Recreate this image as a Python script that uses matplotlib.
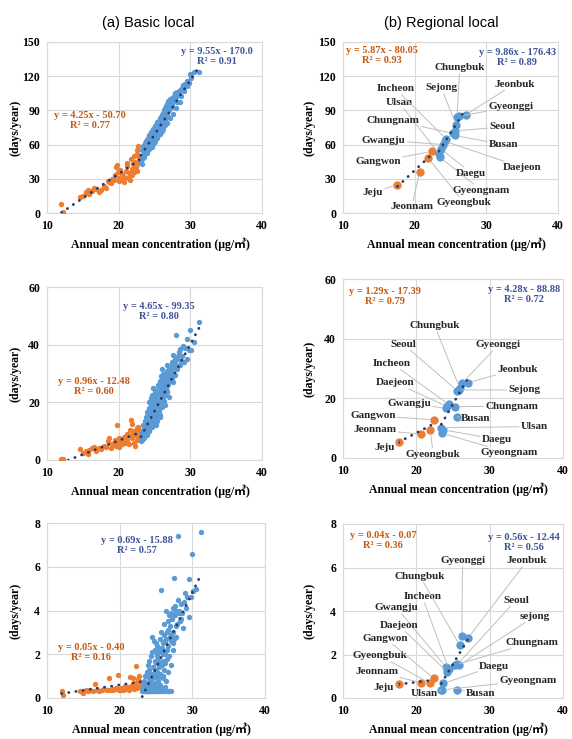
import matplotlib
matplotlib.use('Agg')
import matplotlib.pyplot as plt

# ---- (a) basic local stations ----
# annual mean concentration and exceedance days (three thresholds: rows 1..3)
basic_orange_x = [12.0, 12.2, 14.6, 15.0, 15.4, 15.7, 15.9, 16.3, 16.6, 16.9,
                  17.2, 17.6, 17.9, 18.3, 18.5, 18.7, 18.9, 19.1, 19.3, 19.5,
                  19.6, 19.8, 19.9, 20.0, 20.1, 20.2, 20.4, 20.5, 20.7, 20.8,
                  21.0, 21.1, 21.2, 21.3, 21.4, 21.6, 21.7, 21.8, 21.9, 22.0,
                  22.1, 22.2, 22.3, 22.4, 22.5, 22.6, 22.7, 22.8, 22.9, 22.5]
basic_orange_y1 = [7.5, 1.0, 14, 15, 18, 20, 17, 19, 22, 21,
                   18, 20, 24, 22, 28, 27, 26, 30, 29, 33,
                   40, 42, 36, 31, 28, 38, 34, 29, 32, 27,
                   37, 44, 41, 31, 35, 29, 47, 39, 33, 43,
                   36, 50, 45, 40, 55, 52, 59, 48, 44, 37]
basic_orange_y2 = [0.5, 0.3, 3.8, 2.5, 3.0, 2.0, 3.5, 4.0, 4.5, 3.2,
                   4.2, 3.8, 5.0, 4.5, 6.5, 7.5, 4.0, 5.5, 6.0, 7.0,
                   5.0, 12.0, 6.5, 7.5, 4.5, 6.0, 5.5, 7.0, 6.5, 8.0,
                   6.0, 9.0, 7.0, 8.5, 5.5, 10.5, 14.0, 12.5, 7.5, 9.0,
                   6.0, 10.0, 5.0, 8.5, 11.0, 9.5, 11.5, 10.0, 8.0, 7.0]
basic_orange_y3 = [0.30, 0.15, 0.30, 0.25, 0.35, 0.30, 0.35, 0.30, 0.65, 0.35,
                   0.30, 0.35, 0.40, 0.35, 0.90, 0.35, 0.40, 0.35, 0.40, 0.45,
                   0.40, 1.05, 0.35, 0.40, 0.35, 0.45, 0.40, 0.35, 0.55, 0.40,
                   0.45, 0.50, 0.40, 0.35, 0.95, 0.45, 0.60, 0.90, 0.50, 0.40,
                   0.70, 0.55, 1.45, 0.45, 0.85, 0.60, 1.00, 0.75, 0.50, 0.65]

basic_blue_x = [23.1, 23.2, 23.3, 23.3, 23.4, 23.5, 23.5, 23.6, 23.7, 23.7,
                23.8, 23.8, 23.9, 23.9, 24.0, 24.0, 24.1, 24.1, 24.2, 24.2,
                24.3, 24.3, 24.4, 24.4, 24.5, 24.5, 24.6, 24.6, 24.7, 24.7,
                24.8, 24.8, 24.9, 24.9, 25.0, 25.0, 25.1, 25.1, 25.2, 25.2,
                25.3, 25.3, 25.4, 25.4, 25.5, 25.5, 25.6, 25.6, 25.7, 25.7,
                25.8, 25.8, 25.9, 25.9, 26.0, 26.0, 26.1, 26.1, 26.2, 26.2,
                26.3, 26.3, 26.4, 26.4, 26.5, 26.5, 26.6, 26.6, 26.7, 26.7,
                26.8, 26.8, 26.9, 26.9, 27.0, 27.0, 27.1, 27.1, 27.2, 27.3,
                27.3, 27.4, 27.5, 27.5, 27.6, 27.7, 27.8, 27.9, 28.0, 28.1,
                28.2, 28.4, 28.5, 28.7, 28.9, 29.1, 29.3, 29.5, 29.6, 29.8,
                30.0, 30.1, 30.5, 31.2,
                23.4, 23.6, 23.8, 24.0, 24.1, 24.3, 24.5, 24.6, 24.8, 24.9,
                25.0, 25.1, 25.2, 25.3, 25.4, 25.5, 25.6, 25.7, 25.8, 25.9,
                26.0, 26.1, 26.2, 26.4, 26.5, 26.7, 26.8, 27.0, 27.2, 27.4,
                27.6, 27.8, 28.0, 28.3, 28.6, 29.0]
basic_blue_y1 = [46, 43, 50, 55, 48, 53, 58, 51, 56, 61,
                 54, 59, 62, 57, 60, 64, 58, 62, 66, 61,
                 63, 68, 60, 65, 70, 62, 67, 72, 64, 69,
                 74, 66, 71, 63, 68, 73, 76, 65, 70, 75,
                 67, 72, 78, 69, 74, 80, 71, 77, 82, 73,
                 79, 75, 84, 77, 81, 86, 79, 83, 88, 80,
                 85, 90, 82, 87, 92, 84, 89, 94, 86, 91,
                 96, 88, 93, 98, 90, 95, 100, 92, 97, 94,
                 99, 96, 101, 93, 98, 103, 100, 105, 102, 97,
                 106, 104, 108, 103, 110, 107, 113, 111, 116, 114,
                 122, 118, 124, 124,
                 59, 49, 63, 53, 66, 56, 71, 58, 73, 61,
                 76, 63, 77, 66, 80, 68, 81, 69, 83, 71,
                 72, 86, 74, 88, 77, 92, 79, 94, 83, 98,
                 87, 101, 92, 106, 97, 112]
basic_blue_y2 = [6.5, 8.0, 7.0, 9.5, 10.5, 8.5, 12.0, 9.0, 13.5, 11.0,
                 10.0, 15.0, 12.5, 8.5, 14.0, 16.5, 11.0, 13.0, 18.0, 10.5,
                 15.5, 20.0, 12.0, 17.0, 21.5, 14.0, 19.0, 22.5, 13.0, 16.0,
                 25.0, 18.5, 20.5, 15.0, 22.0, 17.5, 24.0, 14.5, 19.5, 21.0,
                 16.5, 23.0, 18.0, 13.5, 20.0, 25.5, 22.5, 17.0, 27.0, 15.5,
                 24.0, 19.0, 21.5, 26.5, 23.5, 18.5, 31.5, 25.0, 22.0, 27.5,
                 20.5, 28.5, 24.5, 26.0, 30.0, 22.5, 27.0, 29.0, 25.5, 31.0,
                 28.0, 23.5, 30.5, 26.5, 32.0, 29.5, 27.5, 31.5, 29.0, 32.5,
                 30.0, 28.5, 31.0, 33.0, 36.5, 32.0, 29.5, 33.5, 43.5, 31.5,
                 35.0, 37.5, 38.5, 34.5, 36.0, 34.0, 39.0, 42.0, 35.0, 38.0,
                 45.0, 38.0, 41.0, 48.0,
                 12.0, 7.5, 14.0, 9.0, 16.0, 10.0, 19.0, 11.5, 21.0, 13.0,
                 23.0, 14.5, 12.0, 24.0, 16.0, 26.0, 18.0, 27.5, 15.0, 29.0,
                 20.0, 23.0, 30.0, 19.0, 28.0, 24.0, 33.0, 22.0, 29.0, 34.0,
                 27.0, 35.0, 32.0, 36.0, 33.0, 39.5]
basic_blue_y3 = [0.3, 0.5, 0.3, 0.8, 0.3, 0.6, 1.0, 0.3, 0.4, 1.2,
                 0.3, 0.7, 0.3, 1.5, 0.5, 0.9, 0.3, 1.3, 0.4, 0.8,
                 1.9, 0.3, 1.1, 0.6, 2.8, 0.3, 1.4, 0.9, 2.6, 0.4,
                 1.7, 0.3, 1.0, 2.2, 0.5, 1.6, 2.0, 0.3, 1.2, 2.4,
                 0.8, 1.8, 0.3, 1.4, 2.7, 0.6, 1.1, 2.1, 4.95, 0.3,
                 1.5, 2.3, 0.9, 1.7, 2.5, 0.4, 1.3, 2.9, 0.3, 2.0,
                 2.6, 1.6, 4.0, 0.8, 2.2, 3.0, 1.2, 3.5, 2.4, 0.3,
                 3.8, 1.9, 2.8, 3.3, 1.5, 3.9, 2.6, 0.3, 3.6, 2.2,
                 4.1, 3.0, 5.5, 2.7, 3.8, 4.0, 2.8, 3.4, 7.4, 3.9,
                 4.0, 3.6, 4.3, 3.2, 4.4, 4.1, 4.6, 5.45, 3.7, 4.6,
                 6.6, 4.9, 5.0, 7.6,
                 0.6, 0.3, 1.1, 0.3, 1.7, 0.5, 2.1, 0.3, 1.3, 0.7,
                 2.5, 0.3, 1.9, 0.9, 2.3, 0.4, 1.6, 3.0, 0.3, 2.0,
                 1.0, 3.4, 0.5, 2.7, 1.8, 3.1, 0.3, 2.9, 3.7, 2.5,
                 4.2, 3.3, 4.5, 3.5, 3.9, 4.8]

# ---- (b) regional local ----
regions = ['Jeju', 'Jeonnam', 'Gyeongbuk', 'Gangwon', 'Ulsan', 'Gyeongnam', 'Daegu',
           'Gwangju', 'Daejeon', 'Incheon', 'Chungnam', 'Busan', 'Seoul', 'Sejong',
           'Chungbuk', 'Gyeonggi', 'Jeonbuk']
region_x = [17.6, 20.7, 21.9, 22.4, 23.4, 23.5, 23.7, 24.0, 24.2, 24.4, 25.3, 25.6,
            25.6, 25.8, 25.9, 26.2, 27.1]
region_y1 = [25, 36, 48, 54, 52, 49, 56, 60, 63, 65, 70, 68, 72, 77, 84, 85, 86]
region_y2 = [5.5, 8.0, 9.4, 12.8, 10.2, 8.3, 9.4, 16.7, 17.3, 18.0, 17.2, 13.8, 22.5,
             22.8, 23.5, 25.0, 25.3]
region_y3 = [0.64, 0.70, 0.67, 0.90, 0.37, 0.37, 0.67, 1.44, 1.20, 1.35, 1.52, 0.37,
             1.55, 1.50, 2.43, 2.87, 2.78]

# trendline equations as printed: (slope, intercept, r2) for orange / blue group
basic_fits = [[(4.25, -50.70, 0.77), (9.55, -170.0, 0.91)],
              [(0.96, -12.48, 0.60), (4.65, -99.35, 0.80)],
              [(0.05, -0.40, 0.16), (0.69, -15.88, 0.57)]]
region_fits = [[(5.87, -80.05, 0.93), (9.86, -176.43, 0.89)],
               [(1.29, -17.39, 0.79), (4.28, -88.88, 0.72)],
               [(0.04, -0.07, 0.36), (0.56, -12.44, 0.56)]]
y_max = [150, 60, 8]
y_step = [30, 20, 2]

ORANGE = '#ED7D31'
BLUE = '#5B9BD5'
TREND = '#2B3A67'
EQ_ORANGE = '#C55A11'
EQ_BLUE = '#3F5497'
SERIF = 'Liberation Serif'

# text positions (data coords)
basic_eq_pos = [[(16.0, 81), (33.75, 137)],
                [(16.5, 25.5), (25.6, 51.5)],
                [(16.1, 2.08), (22.4, 6.95)]]
region_eq_pos = [[(15.4, 138), (34.3, 136)],
                 [(15.7, 54.2), (34.7, 54.8)],
                 [(15.5, 7.25), (34.7, 7.17)]]
label_pos = [
    {'Chungbuk': (26.3, 127.5), 'Sejong': (23.7, 110), 'Incheon': (17.3, 109),
     'Ulsan': (17.8, 97), 'Chungnam': (17.0, 81), 'Gwangju': (15.7, 64),
     'Gangwon': (14.9, 45), 'Jeju': (14.2, 18), 'Jeonnam': (19.6, 5.5),
     'Gyeongbuk': (26.9, 9), 'Gyeongnam': (29.3, 20), 'Daegu': (27.9, 35),
     'Daejeon': (35.0, 40), 'Busan': (32.4, 60), 'Seoul': (32.2, 75.5),
     'Gyeonggi': (33.4, 93), 'Jeonbuk': (33.9, 113)},
    {'Chungbuk': (22.5, 44.4), 'Seoul': (18.2, 38.2), 'Gyeonggi': (31.2, 37.9),
     'Incheon': (16.7, 31.7), 'Jeonbuk': (33.8, 29.8), 'Daejeon': (17.1, 25.2),
     'Sejong': (34.7, 22.8), 'Gwangju': (19.0, 18.3), 'Chungnam': (33.0, 17.4),
     'Gangwon': (14.1, 14.2), 'Busan': (28.1, 13.2), 'Ulsan': (36.1, 10.5),
     'Jeonnam': (14.4, 9.4), 'Daegu': (31.0, 6.3), 'Jeju': (15.7, 3.5),
     'Gyeongbuk': (22.3, 1.3), 'Gyeongnam': (32.6, 1.8)},
    {'Gyeonggi': (26.3, 6.31), 'Jeonbuk': (35.1, 6.31), 'Chungbuk': (20.5, 5.60),
     'Incheon': (20.8, 4.66), 'Seoul': (33.6, 4.5), 'Gwangju': (17.3, 4.15),
     'Sejong': (36.1, 3.74), 'Daejeon': (17.6, 3.35), 'Gangwon': (15.8, 2.74),
     'Chungnam': (35.8, 2.55), 'Gyeongbuk': (15.0, 1.96), 'Daegu': (30.6, 1.47),
     'Jeonnam': (14.6, 1.21), 'Gyeongnam': (35.2, 0.80), 'Jeju': (15.6, 0.47),
     'Ulsan': (21.1, 0.22), 'Busan': (28.8, 0.22)},
]

W, H = 572, 739
fig = plt.figure(figsize=(W / 100, H / 100), dpi=100)


def px_axes(l, r, t, b):
    return fig.add_axes([l / W, 1 - b / H, (r - l) / W, (b - t) / H])


def style_axes(ax, row):
    ax.set_xlim(10, 40)
    ax.set_ylim(0, y_max[row])
    ax.set_xticks([10, 20, 30, 40])
    ax.set_yticks(range(0, y_max[row] + 1, y_step[row]))
    ax.grid(True, color='#D9D9D9', lw=0.8)
    ax.set_axisbelow(True)
    for s in ax.spines.values():
        s.set_color('#D9D9D9')
        s.set_linewidth(0.8)
    ax.tick_params(length=0, pad=5, labelsize=8.5)
    for lab in ax.get_xticklabels() + ax.get_yticklabels():
        lab.set_fontfamily(SERIF)
        lab.set_fontweight('bold')


def trend(ax, xs, fit):
    a, b, _ = fit
    x0, x1 = min(xs), max(xs)
    ax.plot([x0, x1], [a * x0 + b, a * x1 + b], color=TREND, lw=2,
            linestyle=(0, (0.1, 2.5)), dash_capstyle='round', zorder=4)


def equation(ax, pos, fit, color):
    a, b, r2 = fit
    inter = '170.0' if b == -170.0 else f'{abs(b):.2f}'
    txt = f'y = {a:.2f}x - {inter}\nR² = {r2:.2f}'
    ax.text(pos[0], pos[1], txt, ha='center', va='center', color=color,
            fontsize=7.5, fontweight='bold', family=SERIF, linespacing=1.15,
            multialignment='center', zorder=5, clip_on=True)


basic_rect = [(47, 262, 42, 213), (47, 262, 287, 460), (47, 265, 523, 698)]
region_rect = [(343, 558, 42, 213), (343, 563, 279, 458), (343, 563, 524, 698)]
basic_ys = [(basic_orange_y1, basic_blue_y1), (basic_orange_y2, basic_blue_y2),
            (basic_orange_y3, basic_blue_y3)]
region_ys = [region_y1, region_y2, region_y3]

for row in range(3):
    # left: basic local
    ax = px_axes(*basic_rect[row])
    style_axes(ax, row)
    oy, by = basic_ys[row]
    ax.scatter(basic_orange_x, oy, s=15, color=ORANGE, lw=0, zorder=3)
    ax.scatter(basic_blue_x, by, s=15, color=BLUE, lw=0, zorder=3)
    trend(ax, basic_orange_x, basic_fits[row][0])
    trend(ax, basic_blue_x, basic_fits[row][1])
    equation(ax, basic_eq_pos[row][0], basic_fits[row][0], EQ_ORANGE)
    equation(ax, basic_eq_pos[row][1], basic_fits[row][1], EQ_BLUE)

    # right: regional local
    ax2 = px_axes(*region_rect[row])
    style_axes(ax2, row)
    ys = region_ys[row]
    ox = [x for x in region_x if x < 23]
    oyy = [y for x, y in zip(region_x, ys) if x < 23]
    bx = [x for x in region_x if x >= 23]
    byy = [y for x, y in zip(region_x, ys) if x >= 23]
    ax2.scatter(ox, oyy, s=36, color=ORANGE, lw=0, zorder=3)
    ax2.scatter(bx, byy, s=36, color=BLUE, lw=0, zorder=3)
    trend(ax2, ox, region_fits[row][0])
    trend(ax2, bx, region_fits[row][1])
    equation(ax2, region_eq_pos[row][0], region_fits[row][0], EQ_ORANGE)
    equation(ax2, region_eq_pos[row][1], region_fits[row][1], EQ_BLUE)

    for name, x, y in zip(regions, region_x, ys):
        tx, ty = label_pos[row][name]
        shown = 'sejong' if (row == 2 and name == 'Sejong') else name
        ax2.annotate(shown, xy=(x, y), xytext=(tx, ty), ha='center', va='center',
                     fontsize=8, fontweight='bold', family=SERIF, color='#262626',
                     bbox=dict(boxstyle='square,pad=0.15', fc='none', ec='none'),
                     arrowprops=dict(arrowstyle='-', color='#BFBFBF', lw=0.7,
                                     shrinkA=0, shrinkB=3),
                     zorder=6)

    # axis titles
    for (l, r, t, b) in (basic_rect[row], region_rect[row]):
        fig.text((l + r) / 2 / W + 0.01, 1 - (b + 31) / H,
                 'Annual mean concentration (μg/㎥)', ha='center', va='center',
                 fontsize=8.5, fontweight='bold', family=[SERIF, 'Noto Sans CJK KR'])
    fig.text(15 / W, 1 - (basic_rect[row][2] + basic_rect[row][3]) / 2 / H, '(days/year)',
             rotation=90, ha='center', va='center', fontsize=8.5, fontweight='bold', family=SERIF)
    fig.text(310 / W, 1 - (region_rect[row][2] + region_rect[row][3]) / 2 / H, '(days/year)',
             rotation=90, ha='center', va='center', fontsize=8.5, fontweight='bold', family=SERIF)

fig.text(148 / W, 1 - 23 / H, '(a) Basic local', ha='center', va='center',
         fontsize=10.5, family='Liberation Sans')
fig.text(441 / W, 1 - 23 / H, '(b) Regional local', ha='center', va='center',
         fontsize=10.5, family='Liberation Sans')

fig.savefig('out.png', dpi=100)
